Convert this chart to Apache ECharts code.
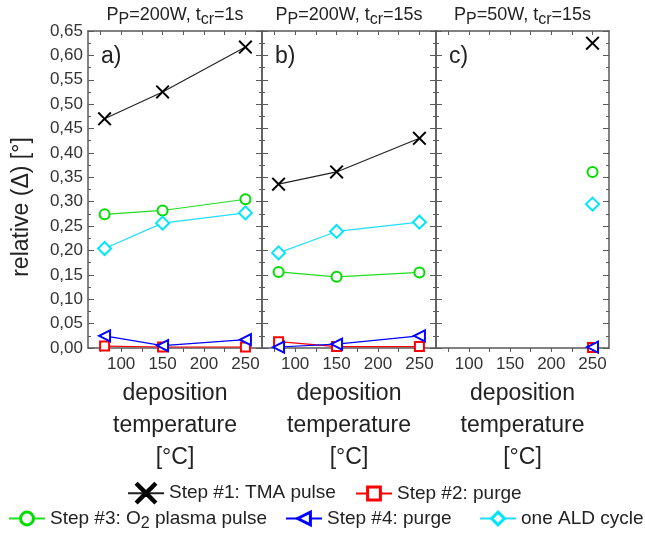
<!DOCTYPE html>
<html><head><meta charset="utf-8">
<script src="https://cdn.jsdelivr.net/npm/echarts@6/dist/echarts.min.js"></script>
<style>html,body{margin:0;padding:0;background:#fff}#c{width:645px;height:540px}</style>
</head><body><div id="c"></div>
<script>
// ---- data ----
const tempsAB = [80, 150, 250];
const tempsC = [250];
const xLabelValues = [100, 150, 200, 250];
const xTickValues = [75, 100, 125, 150, 175, 200, 225, 250];
const panelTitles = [['200W', '1s'], ['200W', '15s'], ['50W', '15s']];
const panelLetters = ['a)', 'b)', 'c)'];
const seriesNames = ['Step #1: TMA pulse', 'Step #2: purge', 'Step #3: O2 plasma pulse', 'Step #4: purge', 'one ALD cycle'];

const tmaA = [0.470, 0.525, 0.617];
const purge2A = [0.004, 0.002, 0.002];
const o2A = [0.274, 0.282, 0.305];
const purge4A = [0.025, 0.005, 0.017];
const aldA = [0.204, 0.256, 0.277];

const tmaB = [0.336, 0.361, 0.430];
const purge2B = [0.013, 0.003, 0.003];
const o2B = [0.156, 0.146, 0.155];
const purge4B = [0.002, 0.008, 0.025];
const aldB = [0.195, 0.239, 0.258];

const tmaC = [0.625];
const purge2C = [0.001];
const o2C = [0.361];
const purge4C = [0.002];
const aldC = [0.295];

const panelData = [
  {x: tempsAB, vals: [tmaA, purge2A, o2A, purge4A, aldA]},
  {x: tempsAB, vals: [tmaB, purge2B, o2B, purge4B, aldB]},
  {x: tempsC, vals: [tmaC, purge2C, o2C, purge4C, aldC]}
];

// ---- styles ----
const XPATH = 'path://M0,1L1,0L5,4L9,0L10,1L6,5L10,9L9,10L5,6L1,10L0,9L4,5Z';
const styles = [
  {symbol: XPATH, size: 14, rot: 0, line: '#222', item: {color: '#000', borderWidth: 0}, z: 6},
  {symbol: 'rect', size: 9, rot: 0, line: '#ff0000', item: {color: '#fff', borderColor: '#ff0000', borderWidth: 2}, z: 3},
  {symbol: 'circle', size: 10, rot: 0, line: '#22dd22', item: {color: '#fff', borderColor: '#00dd00', borderWidth: 2}, z: 4},
  {symbol: 'triangle', size: 11, rot: 90, line: '#0000ff', item: {color: '#fff', borderColor: '#0000ff', borderWidth: 2}, z: 5},
  {symbol: 'diamond', size: 13, rot: 0, line: '#22ddff', item: {color: '#fff', borderColor: '#00e5ff', borderWidth: 2}, z: 4}
];

const gridLeft = [88, 262, 436];
const gridW = [174, 174, 173];
const gridTop = 31, gridH = 317;
const axisCol = '#5a5a5a';
const FONT = 'Liberation Sans, Arial, sans-serif';

const grids = [], xAxes = [], yAxes = [], series = [], graphics = [];
for (let g = 0; g < 3; g++) {
  grids.push({left: gridLeft[g], top: gridTop, width: gridW[g], height: gridH, containLabel: false});
  const xBase = {type: 'value', gridIndex: g, min: 60, max: 270, splitLine: {show: false},
    axisLine: {show: true, onZero: false, lineStyle: {color: axisCol, width: 1.5}}};
  xAxes.push(Object.assign({}, xBase, {position: 'bottom',
    axisTick: {show: true, inside: false, length: 4, customValues: xTickValues, lineStyle: {color: axisCol}},
    axisLabel: {show: true, customValues: xLabelValues, fontSize: 17, fontFamily: FONT, color: '#333', margin: 8}}));
  xAxes.push(Object.assign({}, xBase, {position: 'top',
    axisTick: {show: true, inside: true, length: 4, customValues: xTickValues, lineStyle: {color: axisCol}},
    axisLabel: {show: false}}));
  const yBase = {type: 'value', gridIndex: g, min: 0, max: 0.65, interval: 0.05, splitLine: {show: false},
    axisLine: {show: true, onZero: false, lineStyle: {color: axisCol, width: 1.5}},
    axisTick: {show: true, inside: true, length: 6, lineStyle: {color: axisCol}},
    minorTick: {show: true, splitNumber: 2, length: 3, lineStyle: {color: axisCol}}};
  yAxes.push(Object.assign({}, yBase, {position: 'left',
    axisLabel: {show: g === 0, fontSize: 17, fontFamily: FONT, color: '#333', margin: 5,
      formatter: v => v.toFixed(2).replace('.', ',')}}));
  yAxes.push(Object.assign({}, yBase, {position: 'right', axisLabel: {show: false}}));

  const pd = panelData[g];
  for (let s = 0; s < 5; s++) {
    const st = styles[s];
    series.push({
      name: seriesNames[s], type: 'line', xAxisIndex: g * 2, yAxisIndex: g * 2,
      data: pd.x.map((x, i) => [x, pd.vals[s][i]]),
      symbol: st.symbol, symbolSize: st.size, symbolRotate: st.rot, showSymbol: true, clip: false,
      lineStyle: {color: st.line, width: 1.2}, itemStyle: st.item, z: st.z, animation: false
    });
  }

  const cx = gridLeft[g] + gridW[g] / 2;
  // panel title
  graphics.push({type: 'text', x: cx, y: 17, z: 10, style: {
    text: '{n|P}{s|P}{n|=' + panelTitles[g][0] + ', t}{s|cr}{n|=' + panelTitles[g][1] + '}',
    align: 'center', verticalAlign: 'middle',
    rich: {n: {fontSize: 18, fontFamily: FONT, fill: '#222', lineHeight: 22, verticalAlign: 'top', padding: [0, 0, 0, 0]},
           s: {fontSize: 16, fontFamily: FONT, fill: '#222', lineHeight: 22, verticalAlign: 'top', padding: [6, 0, 0, 0]}}
  }});
  // panel letter
  graphics.push({type: 'text', x: gridLeft[g] + 13, y: 57, z: 10, style: {
    text: panelLetters[g], fontSize: 23, fontFamily: FONT, fill: '#222', align: 'left', verticalAlign: 'middle'}});
  // x axis name
  graphics.push({type: 'text', x: cx, y: 426, z: 10, style: {
    text: 'deposition\ntemperature\n[°C]', fontSize: 23, fontFamily: FONT, fill: '#222', lineHeight: 32,
    align: 'center', verticalAlign: 'middle'}});
}
graphics.push({type: 'text', x: 22, y: 207, rotation: Math.PI / 2, z: 10, style: {
  text: 'relative (Δ) [°]', fontSize: 23, fontFamily: FONT, fill: '#222', align: 'center', verticalAlign: 'middle'}});

const LF = 19;
const legendText = {fontSize: LF, fontFamily: FONT, color: '#222',
  rich: {n: {fontSize: LF, fontFamily: FONT, color: '#222', padding: [0, 0, 0, 0]},
         s: {fontSize: 16, fontFamily: FONT, color: '#222', padding: [11, 0, 0, 0]}}};
const legendFmt = name => name.indexOf('O2') >= 0 ? '{n|Step #3: O}{s|2}{n| plasma pulse}' : name;
function lg(i, left, top, ih, bw) {
  return {data: [seriesNames[i]], left: left, top: top, padding: 0, itemWidth: 36, itemHeight: ih, textStyle: legendText,
    formatter: legendFmt, itemStyle: bw ? {borderWidth: bw} : {}};
}
const legends = [
  Object.assign(lg(0, 127, 482, 26, 1.5), {itemStyle: {borderWidth: 1.5, borderColor: '#000'}}),
  lg(1, 355, 484, 16, 3),
  lg(2, 8, 509, 16, 3),
  lg(3, 285, 509, 16, 3),
  lg(4, 479, 509, 16, 3)
];

const chart = echarts.init(document.getElementById('c'), null, {renderer: 'canvas'});
chart.setOption({
  animation: false,
  backgroundColor: '#fff',
  grid: grids, xAxis: xAxes, yAxis: yAxes, series: series,
  legend: legends, graphic: graphics
});
</script>
</body></html>
